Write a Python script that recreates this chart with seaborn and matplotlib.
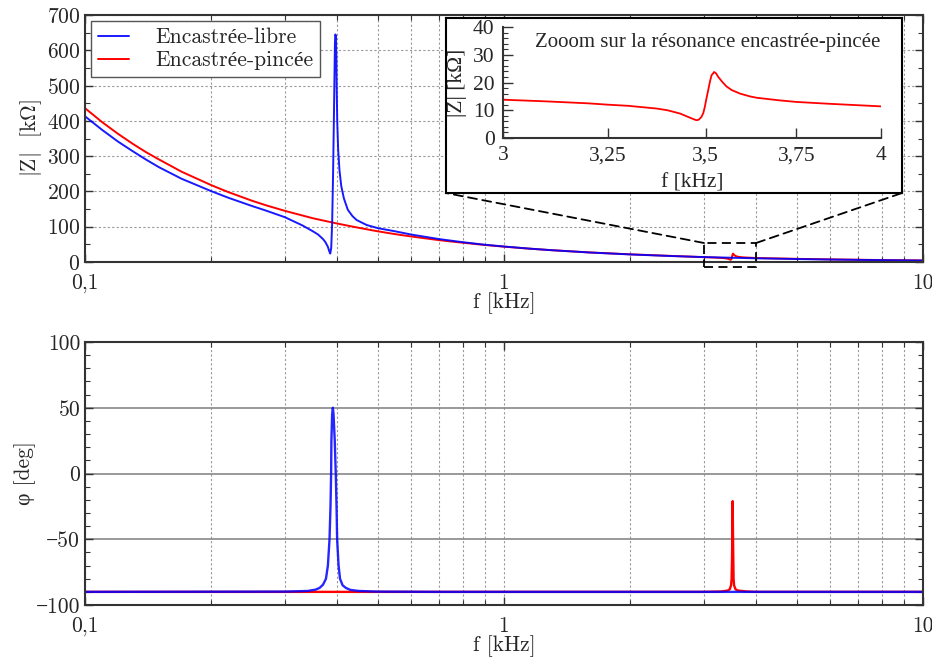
import numpy as np
import pandas as pd
import matplotlib
matplotlib.use("Agg")
import matplotlib.pyplot as plt
from matplotlib.ticker import LogLocator, NullFormatter, NullLocator, MultipleLocator, FixedLocator
from matplotlib.patches import Rectangle, ConnectionPatch
import seaborn as sns

sns.set_style("ticks")
plt.rcParams['font.family'] = ['cmr10', 'Liberation Serif']
plt.rcParams['mathtext.fontset'] = 'cm'
plt.rcParams['axes.formatter.use_mathtext'] = True
plt.rcParams['axes.unicode_minus'] = True

# |Z| encastree-libre (kHz, kOhm)
f_libre = [0.1, 0.11, 0.12, 0.13, 0.14, 0.15, 0.17, 0.2, 0.22, 0.25, 0.27, 0.3, 0.33, 0.35,
           0.36, 0.37, 0.375, 0.38, 0.383, 0.385, 0.387, 0.389, 0.391, 0.393, 0.395, 0.396,
           0.397, 0.398, 0.399, 0.4, 0.402, 0.405, 0.409, 0.415, 0.424, 0.435, 0.445, 0.47,
           0.5, 0.55, 0.6, 0.7, 0.8, 0.9, 1.0, 1.15, 1.3, 1.6, 2.0, 2.5, 3.0, 4.0, 5.0, 6.0,
           8.0, 10.0]
z_libre = [413, 374, 341, 314, 290, 269, 236, 201, 182, 159, 146, 127, 104, 87,
           78, 65, 56, 43, 30, 24, 40, 110, 250, 430, 620, 645,
           640, 590, 480, 400, 320, 260, 215, 180, 148, 130, 119, 105,
           96, 87, 78, 65, 56, 49, 44, 38, 33.5, 27, 21.5, 17, 14, 10.5, 8.5, 7,
           5.3, 4.2]

# |Z| encastree-pincee
f_pincee = [0.1, 0.11, 0.12, 0.13, 0.14, 0.15, 0.17, 0.2, 0.22, 0.25, 0.27, 0.3, 0.35, 0.4,
            0.45, 0.5, 0.55, 0.6, 0.65, 0.7, 0.75, 0.8, 0.9, 1.0, 1.15, 1.3, 1.6, 2.0, 2.5,
            3.0, 3.1, 3.2, 3.25, 3.3, 3.373, 3.4, 3.433, 3.445, 3.459, 3.468, 3.476, 3.482,
            3.489, 3.494, 3.498, 3.502, 3.507, 3.512, 3.516, 3.523, 3.528, 3.534, 3.545,
            3.556, 3.57, 3.593, 3.62, 3.639, 3.7, 3.75, 3.85, 3.95, 4.0, 5.0, 6.0, 8.0, 10.0]
z_pincee = [436, 396, 363, 335, 311, 291, 256, 218, 198, 174, 161, 145, 124, 109,
            97, 87, 79, 72.5, 67, 62, 58, 54.5, 48.3, 43.5, 37.8, 33.5, 27.2, 21.8, 17.4,
            13.8, 13.2, 12.5, 12.0, 11.6, 10.6, 10.0, 8.8, 8.1, 7.3, 6.8, 6.4, 6.6,
            7.6, 9.0, 11.2, 14.0, 17.2, 20.5, 22.6, 23.8, 23.3, 22.0, 20.2,
            18.6, 17.3, 16.0, 15.0, 14.5, 13.6, 13.0, 12.3, 11.7, 11.4, 9.0, 7.5, 5.6, 4.4]

# phase (deg)
f_phi_libre = [0.1, 0.3, 0.34, 0.355, 0.363, 0.37, 0.376, 0.38, 0.3834, 0.3855, 0.3868,
               0.3874, 0.389, 0.3905, 0.392, 0.3946, 0.3968, 0.3985, 0.3998, 0.403,
               0.4062, 0.412, 0.4195, 0.43, 0.45, 0.5, 0.7, 10.0]
phi_libre = [-90, -89.8, -89.3, -88.3, -87, -84.5, -80, -70, -50, -25, 0,
             25, 45, 50, 45, 25, 0, -25, -50, -70,
             -80, -85, -87, -88.5, -89.3, -89.8, -90, -90]

f_phi_pincee = [0.1, 3.0, 3.3, 3.42, 3.46, 3.485, 3.495, 3.503, 3.508, 3.512, 3.5155,
                3.519, 3.523, 3.528, 3.533, 3.543, 3.57, 3.62, 3.8, 4.0, 10.0]
phi_pincee = [-90, -90, -89.7, -89, -88, -85, -80, -65, -50, -35, -21,
              -35, -50, -65, -80, -85, -88, -89, -89.7, -90, -90]

blue = '#0000ff'
red = '#ff0000'
fs = 15.5

fig = plt.figure(figsize=(9.32, 6.59), dpi=100)
ax1 = fig.add_axes([0.0912, 0.6024, 0.899, 0.3748])
ax2 = fig.add_axes([0.0912, 0.0819, 0.899, 0.3991])

sns.lineplot(x=f_pincee, y=z_pincee, ax=ax1, color=red, lw=1.4, label='Encastrée-pincée',
             sort=False, estimator=None)
sns.lineplot(x=f_libre, y=z_libre, ax=ax1, color=blue, lw=1.4, alpha=0.9,
             label='Encastrée-libre', sort=False, estimator=None)
sns.lineplot(x=f_phi_pincee, y=phi_pincee, ax=ax2, color=red, lw=1.7, sort=False, estimator=None)
sns.lineplot(x=f_phi_libre, y=phi_libre, ax=ax2, color=blue, lw=1.7, alpha=0.85,
             sort=False, estimator=None)

for ax in (ax1, ax2):
    ax.set_xscale('log')
    ax.set_xlim(0.1, 10)
    ax.xaxis.set_major_locator(FixedLocator([0.1, 1, 10]))
    ax.set_xticklabels(['0,1', '1', '10'])
    ax.xaxis.set_minor_locator(LogLocator(base=10, subs=np.arange(2, 10)))
    ax.xaxis.set_minor_formatter(NullFormatter())
    ax.tick_params(which='both', direction='in', top=True, right=True, labelsize=fs,
                   color='#333333')
    ax.tick_params(which='major', length=6, width=1)
    ax.tick_params(which='minor', length=3.5, width=0.8)
    ax.tick_params(axis='x', pad=8)
    ax.grid(True, which='both', axis='x', color='#999999', lw=0.8, ls=(0, (2, 2)))
    for s in ax.spines.values():
        s.set_linewidth(1.5)
        s.set_color('#333333')
    ax.set_xlabel('f [kHz]', fontsize=fs, labelpad=0)

ax1.set_ylim(0, 700)
ax1.yaxis.set_major_locator(MultipleLocator(100))
ax1.yaxis.set_minor_locator(MultipleLocator(50))
ax1.grid(True, which='major', axis='y', color='#999999', lw=0.8, ls=(0, (2, 2)))
ax1.set_ylabel(r'$|\mathrm{Z}|$  [k$\Omega$]', fontsize=fs, labelpad=2)

ax2.set_ylim(-100, 100)
ax2.yaxis.set_major_locator(FixedLocator([-100, -50, 0, 50, 100]))
ax2.set_yticklabels(['\u2212100', '\u221250', '0', '50', '100'])
ax2.yaxis.set_minor_locator(MultipleLocator(10))
ax2.grid(True, which='major', axis='y', color='#888888', lw=1.2, ls='-')
ax2.set_ylabel('φ [deg]', fontsize=fs, labelpad=0)

# legend order: libre first
h, l = ax1.get_legend_handles_labels()
leg = ax1.legend([h[1], h[0]], [l[1], l[0]], loc='upper left', fontsize=fs, frameon=True,
                 fancybox=False, framealpha=1, edgecolor='#555555', handlelength=1.45,
                 handletextpad=1.2, borderaxespad=0.3, borderpad=0.3, labelspacing=0.15)
leg.get_frame().set_linewidth(1.0)

# zoom rectangle on main plot
rect = Rectangle((3, -14), 1, 68, fill=False, ec='black', lw=1.3, ls=(0, (5, 3)),
                 clip_on=False, zorder=5)
ax1.add_patch(rect)

# inset frame
frame = fig.add_axes([0.4785, 0.7071, 0.4893, 0.2656])
frame.set_xticks([])
frame.set_yticks([])
frame.set_facecolor('white')
for s in frame.spines.values():
    s.set_linewidth(1.5)
    s.set_color('black')

for xa, xf in ((3, 0.4785), (4, 0.4785 + 0.4893)):
    con = ConnectionPatch(xyA=(xa, 54), coordsA='data', axesA=ax1,
                          xyB=(xf, 0.7071), coordsB='figure fraction',
                          color='black', lw=1.3, ls=(0, (5, 3)), zorder=4)
    fig.add_artist(con)

ins = fig.add_axes([0.5397, 0.7906, 0.4056, 0.1684])
ins.patch.set_alpha(0)
sns.lineplot(x=f_pincee, y=z_pincee, ax=ins, color=red, lw=1.3, sort=False, estimator=None)
ins.set_xscale('log')
ins.set_xlim(3, 4)
ins.set_ylim(0, 40)
ins.xaxis.set_major_locator(FixedLocator([3, 3.25, 3.5, 3.75, 4]))
ins.xaxis.set_minor_locator(NullLocator())
ins.set_xticklabels(['3', '3,25', '3,5', '3,75', '4'], fontfamily='Liberation Serif')
ins.yaxis.set_major_locator(FixedLocator([0, 10, 20, 30, 40]))
ins.yaxis.set_minor_locator(FixedLocator(np.arange(0, 41, 2)))
ins.set_yticklabels(['0', '10', '20', '30', '40'], fontfamily='Liberation Serif')
ins.tick_params(which='both', direction='in', labelsize=fs, color='#333333')
ins.tick_params(which='major', length=7, width=1, pad=6)
ins.tick_params(which='minor', length=3.5, width=0.8)
ins.spines['top'].set_visible(False)
ins.spines['right'].set_visible(False)
for s in ('left', 'bottom'):
    ins.spines[s].set_linewidth(1.5)
    ins.spines[s].set_color('#333333')
ins.set_xlabel('f [kHz]', fontsize=fs, fontfamily='Liberation Serif', labelpad=6)
ins.set_ylabel('|Z| [kΩ]', fontsize=fs, fontfamily='Liberation Serif', labelpad=4)
ins.text(0.542, 0.865, 'Zooom sur la résonance encastrée-pincée', transform=ins.transAxes,
         ha='center', va='center', fontsize=15, fontfamily='Liberation Serif')

fig.savefig('out.png', dpi=100)
